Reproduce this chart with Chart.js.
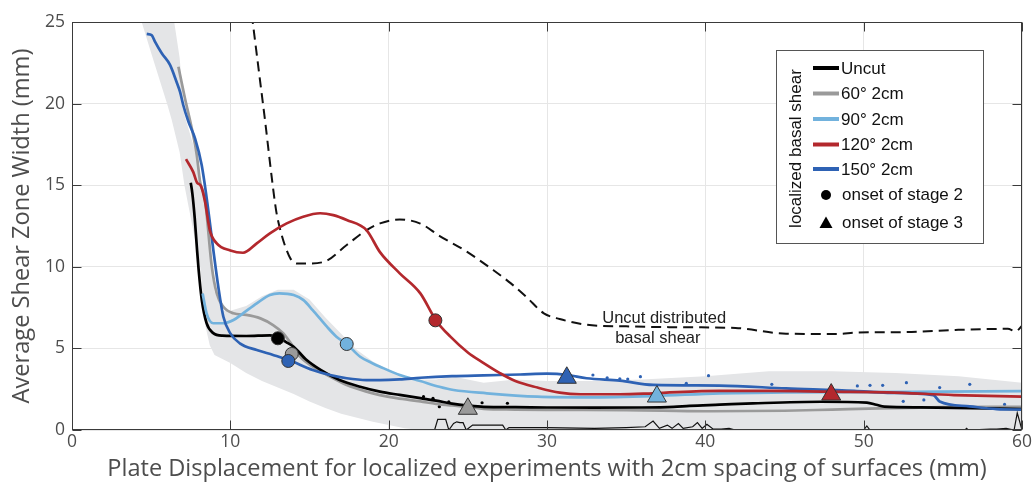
<!DOCTYPE html>
<html><head><meta charset="utf-8">
<script src="https://cdn.jsdelivr.net/npm/chart.js@4/dist/chart.umd.min.js"></script>
<style>html,body{margin:0;padding:0;background:#fff;}#wrap{width:1035px;height:484px;}</style>
</head><body><div id="wrap"><canvas id="c" width="1035" height="484"></canvas></div>
<script>
// ---------- tick labels ----------
const xTicks = [0, 10, 20, 30, 40, 50, 60];
const yTicks = [0, 5, 10, 15, 20, 25];
const xTitleText = 'Plate Displacement for localized experiments with 2cm spacing of surfaces (mm)';
const yTitleText = 'Average Shear Zone Width (mm)';
const seriesNames = ['Uncut', '60° 2cm', '90° 2cm', '120° 2cm', '150° 2cm'];
const markerNames = ['onset of stage 2', 'onset of stage 3'];
const legendTitle = 'localized basal shear';
const noteLines = ['Uncut distributed', 'basal shear'];

// ---------- series ----------
const uncutX = [7.5, 7.6, 7.75, 7.9, 8.0, 8.2, 8.5, 8.9, 9.5, 11, 12.5, 13.0, 13.5, 14.0, 14.8, 15.7, 16.9, 18.2, 19.45, 20.7, 22, 23, 24, 25, 26, 28, 30, 33, 36, 38, 39, 40.9, 43, 47.3, 50.2, 50.8, 51.3, 53.6, 57.8, 60];
const uncutY = [15.15, 14.5, 13.0, 11.0, 9.8, 7.95, 6.55, 5.95, 5.78, 5.76, 5.8, 5.7, 5.4, 5.1, 4.3, 3.68, 3.06, 2.65, 2.35, 2.15, 1.95, 1.8, 1.62, 1.5, 1.42, 1.4, 1.38, 1.37, 1.38, 1.42, 1.48, 1.55, 1.63, 1.73, 1.68, 1.55, 1.43, 1.39, 1.33, 1.28];

const g60X = [6.72, 7.14, 7.56, 7.88, 8.09, 8.4, 8.83, 9.14, 9.56, 10.19, 11.0, 11.9, 12.7, 13.35, 13.9, 14.4, 15.2, 16.3, 17.35, 18.6, 19.45, 20.5, 22, 23, 24, 25, 26, 28, 30, 35, 40, 45, 48, 51, 55, 60];
const g60Y = [22.26, 20.3, 18.5, 16.85, 15.2, 14.1, 10.0, 8.37, 7.55, 7.15, 7.05, 6.84, 6.43, 5.92, 5.2, 4.49, 3.88, 3.27, 2.76, 2.35, 2.14, 1.95, 1.75, 1.6, 1.5, 1.42, 1.3, 1.25, 1.23, 1.22, 1.15, 1.18, 1.25, 1.32, 1.4, 1.42];

const g90X = [8.25, 8.5, 8.93, 9.56, 10.2, 10.8, 11.67, 12.5, 13.1, 14.0, 14.6, 15.2, 16.1, 16.7, 17.35, 18.2, 19.0, 19.45, 20.7, 22, 23.2, 24.1, 26.2, 29.4, 32.5, 36.7, 40.9, 45, 50, 55, 60];
const g90Y = [8.37, 7.15, 6.54, 6.54, 6.74, 7.15, 7.76, 8.27, 8.37, 8.27, 7.97, 7.35, 6.33, 5.72, 5.27, 4.49, 4.08, 3.88, 3.37, 3.0, 2.65, 2.45, 2.25, 2.04, 2.0, 2.08, 2.25, 2.3, 2.32, 2.35, 2.38];

const g120X = [7.2, 7.66, 7.9, 8.15, 8.4, 8.7, 9.14, 10.0, 10.8, 11.67, 12.5, 13.56, 14.6, 15.67, 16.5, 17.35, 18.6, 19.45, 20.7, 22.0, 23.0, 23.9, 25.0, 26.0, 27.0, 28.0, 29.4, 30.8, 32.1, 34.6, 36.7, 40.9, 44, 47.9, 51.5, 55.7, 60];
const g120Y = [16.6, 15.8, 15.15, 14.95, 14.0, 12.25, 11.44, 11.0, 10.86, 11.44, 12.05, 12.66, 13.07, 13.28, 13.17, 12.87, 12.25, 10.9, 9.6, 8.37, 6.7, 5.72, 4.75, 4.1, 3.5, 3.0, 2.6, 2.29, 2.19, 2.19, 2.25, 2.4, 2.4, 2.35, 2.31, 2.14, 2.04];

const g150X = [4.72, 5.03, 5.24, 5.67, 6.19, 6.6, 6.82, 7.03, 7.35, 7.77, 8.19, 8.55, 8.93, 9.24, 9.56, 10.0, 10.6, 11.67, 12.7, 13.66, 15.2, 16.3, 17.35, 18.6, 19.45, 20.7, 22, 24, 26, 28.3, 30, 31.25, 32.5, 34.6, 36.7, 40.9, 45.1, 49.4, 51.5, 54.4, 54.8, 56.7, 58.4, 60];
const g150Y = [24.27, 24.2, 23.8, 23.08, 22.37, 21.34, 20.73, 19.9, 18.9, 17.87, 16.24, 13.9, 11.0, 8.78, 6.94, 5.92, 5.31, 4.9, 4.6, 4.3, 3.68, 3.37, 3.17, 3.06, 3.06, 3.1, 3.2, 3.3, 3.35, 3.4, 3.45, 3.38, 3.17, 3.02, 2.76, 2.72, 2.55, 2.4, 2.28, 2.14, 1.75, 1.45, 1.28, 1.25];

// Uncut distributed basal shear (dashed)
const distX = [11.35, 11.8, 12.2, 12.6, 12.9, 13.2, 13.45, 13.8, 14.2, 14.8, 15.9, 17.35, 18.6, 19.45, 20.7, 22.0, 23.2, 24.9, 26.6, 27.7, 28.7, 29.8, 30.8, 32.5, 35, 38, 41.9, 45.1, 48.3, 49.6, 52.6, 55.8, 59.1, 59.6, 60];
const distY = [25.5, 22.0, 18.9, 15.6, 13.4, 12.1, 11.3, 10.5, 10.2, 10.2, 10.3, 11.34, 12.25, 12.66, 12.9, 12.65, 11.9, 10.95, 9.8, 9.0, 8.15, 7.15, 6.8, 6.45, 6.35, 6.3, 6.25, 5.9, 5.88, 5.97, 6.0, 6.13, 6.2, 6.05, 6.38];

// thin lower trace
const lowX = [22.9, 23.1, 23.6, 23.8, 24.1, 24.3, 24.5, 24.7, 24.9, 25.3, 27.2, 27.4, 27.6, 30, 33, 35, 36.2, 36.7, 37.1, 37.6, 37.9, 38.3, 38.6, 39.2, 39.5, 39.8, 40.1, 40.5, 41, 41.5, 41.9, 50, 50.2, 50.4, 56.4, 56.5, 56.6, 58, 58.4, 59, 59.5, 59.7, 60];
const lowY = [0, 0.65, 0.65, 0, 0.4, 0.5, 0.45, 0.45, 0, 0.3, 0.3, 0, 0.15, 0.15, 0.1, 0.15, 0.2, 0.55, 0.1, 0.3, 0.1, 0.4, 0.1, 0.2, 0.45, 0.1, 0.35, 0.05, 0.05, 0.1, 0, 0, 0.25, 0, 0, 0.1, 0, 0.05, 0.05, 0.1, 0, 1.05, 0];

// shaded range
const bandX = [4.0, 4.4, 5.0, 6.0, 6.3, 6.8, 7.1, 7.5, 7.9, 8.1, 8.4, 8.7, 9.0, 9.5, 10, 11, 12, 13, 14, 15, 16, 17, 18, 19, 20, 21, 22, 23, 24, 26, 28, 30, 33, 36, 40, 44, 48, 52, 56, 60];
const bandUpper = [26, 26, 26, 26, 26, 22.8, 19.3, 18.0, 16.7, 15.5, 14.0, 11.0, 8.5, 7.3, 7.3, 7.6, 8.2, 8.6, 8.6, 8.0, 6.9, 5.9, 4.9, 4.2, 3.7, 3.3, 3.1, 3.1, 3.3, 2.9, 3.1, 3.0, 3.0, 3.1, 3.3, 3.6, 3.6, 3.5, 3.3, 2.9];
const bandLower = [26, 25, 23.1, 20, 19, 17, 15, 13, 11, 10, 6.5, 5.2, 4.6, 4.35, 4.1, 3.5, 3.0, 2.6, 2.2, 1.75, 1.35, 1.0, 0.75, 0.5, 0.3, 0.1, 0, 0, 0, 0, 0, 0, 0, 0, 0, 0, 0, 0, 0, 0];

// scattered raw points
const blueDotsX = [32.9, 33.8, 34.6, 35.1, 35.9, 38.8, 40.2, 44.2, 49.6, 50.4, 51.2, 52.7, 54.8, 56.7, 52.5, 53.8, 58.9];
const blueDotsY = [3.37, 3.2, 3.14, 3.12, 3.27, 2.86, 3.33, 2.8, 2.7, 2.74, 2.74, 2.9, 2.6, 2.8, 1.76, 1.84, 1.57];
const blackDotsX = [22.2, 22.8, 23.2, 23.8, 25.9, 27.5];
const blackDotsY = [2.04, 1.94, 1.43, 1.73, 1.67, 1.64];

// onset markers (order: Uncut, 60, 90, 120, 150)
const stage2X = [13.0, 13.88, 17.35, 22.95, 13.66];
const stage2Y = [5.62, 4.66, 5.27, 6.72, 4.23];
const stage3Names = ['60° 2cm', '150° 2cm', '90° 2cm', '120° 2cm'];
const stage3X = [25.0, 31.25, 36.94, 47.95];
const stage3Y = [1.3, 3.2, 2.05, 2.17];

// ---------- styling ----------
const colors = { 'Uncut': '#000000', '60° 2cm': '#9a9a9a', '90° 2cm': '#72b2dd', '120° 2cm': '#b3282d', '150° 2cm': '#2e62b4' };
const axisColor = '#4d4d4d';
const AX_FONT = '"Open Sans", "Noto Sans", sans-serif';
const LG_FONT = '"Liberation Sans", Arial, Helvetica, sans-serif';

function fitSize(text, family, target) {
  const c = document.createElement('canvas').getContext('2d');
  c.font = '100px ' + family;
  return 100 * target / c.measureText(text).width;
}
const xTitleSize = fitSize(xTitleText, AX_FONT, 880);
const yTitleSize = fitSize(yTitleText, AX_FONT, 355);

const zip = (xs, ys) => xs.map((x, i) => ({ x, y: ys[i] }));
const lineDs = (name, xs, ys, order) => ({
  label: name, data: zip(xs, ys), borderColor: colors[name], backgroundColor: colors[name],
  borderWidth: 2.7, pointRadius: 0, cubicInterpolationMode: 'monotone', fill: false, order
});

const datasets = [
  { label: 'bandUpper', data: zip(bandX, bandUpper), borderWidth: 0, pointRadius: 0, fill: '+1', backgroundColor: '#e4e5e7', borderColor: 'rgba(0,0,0,0)', tension: 0, order: 100 },
  { label: 'bandLower', data: zip(bandX, bandLower), borderWidth: 0, pointRadius: 0, fill: false, borderColor: 'rgba(0,0,0,0)', tension: 0, order: 99 },
  { label: 'low', data: zip(lowX, lowY), borderColor: '#111', borderWidth: 1.2, pointRadius: 0, tension: 0, fill: false, order: 90 },
  { label: 'dist', data: zip(distX, distY), borderColor: '#111', borderWidth: 2, borderDash: [10, 6], pointRadius: 0, cubicInterpolationMode: 'monotone', fill: false, order: 80 },
  { label: 'blueDots', data: zip(blueDotsX, blueDotsY), showLine: false, pointRadius: 1.6, pointBackgroundColor: '#2e62b4', pointBorderWidth: 0, order: 60 },
  { label: 'blackDots', data: zip(blackDotsX, blackDotsY), showLine: false, pointRadius: 1.6, pointBackgroundColor: '#000', pointBorderWidth: 0, order: 60 },
  lineDs('60° 2cm', g60X, g60Y, 50),
  lineDs('Uncut', uncutX, uncutY, 45),
  lineDs('90° 2cm', g90X, g90Y, 40),
  lineDs('150° 2cm', g150X, g150Y, 35),
  lineDs('120° 2cm', g120X, g120Y, 30),
  { label: 'stage2', data: zip(stage2X, stage2Y), showLine: false, pointStyle: 'circle', pointRadius: 6.5,
    pointBackgroundColor: seriesNames.map(n => colors[n]), pointBorderColor: '#333', pointBorderWidth: 1, order: 5 },
  { label: 'stage3', data: zip(stage3X, stage3Y), showLine: false, pointStyle: 'triangle', pointRadius: 11,
    pointBackgroundColor: stage3Names.map(n => colors[n]), pointBorderColor: '#333', pointBorderWidth: 1, order: 4 }
];

// frame with inward ticks
const framePlugin = {
  id: 'frame',
  afterDraw(chart) {
    const { ctx, chartArea: a, scales: { x, y } } = chart;
    const L = Math.round(a.left) + 0.5, R = Math.round(a.right) - 0.5, T = Math.round(a.top) + 0.5, B = Math.round(a.bottom) - 0.5;
    ctx.save();
    ctx.strokeStyle = '#3a3a3a'; ctx.lineWidth = 1;
    ctx.strokeRect(L, T, R - L, B - T);
    ctx.beginPath();
    const tl = 9;
    xTicks.forEach(v => { const p = Math.round(x.getPixelForValue(v)) + 0.5; ctx.moveTo(p, B); ctx.lineTo(p, B - tl); ctx.moveTo(p, T); ctx.lineTo(p, T + tl); });
    yTicks.forEach(v => { const p = Math.round(y.getPixelForValue(v)) + 0.5; ctx.moveTo(L, p); ctx.lineTo(L + tl, p); ctx.moveTo(R, p); ctx.lineTo(R - tl, p); });
    ctx.stroke();
    ctx.restore();
  }
};

// annotation + legend
const overlayPlugin = {
  id: 'overlay',
  afterDraw(chart) {
    const { ctx, scales: { x, y } } = chart;
    ctx.save();
    // note text
    ctx.fillStyle = '#222'; ctx.font = '16.5px ' + LG_FONT; ctx.textAlign = 'center'; ctx.textBaseline = 'middle';
    ctx.fillText(noteLines[0], x.getPixelForValue(37.4), y.getPixelForValue(6.86));
    ctx.fillText(noteLines[1], x.getPixelForValue(37.0), y.getPixelForValue(5.58));

    // legend box
    const bx = 776.5, by = 50.5, bw = 207, bh = 193;
    ctx.fillStyle = '#fff'; ctx.fillRect(bx, by, bw, bh);
    ctx.strokeStyle = '#555'; ctx.lineWidth = 1; ctx.strokeRect(bx, by, bw, bh);
    ctx.fillStyle = '#111'; ctx.font = '17px ' + LG_FONT;
    ctx.save(); ctx.translate(796, 148.5); ctx.rotate(-Math.PI / 2);
    ctx.textAlign = 'center'; ctx.textBaseline = 'middle'; ctx.fillText(legendTitle, 0, 0); ctx.restore();
    const rows = [68, 93.5, 119, 144.5, 169];
    ctx.textAlign = 'left'; ctx.textBaseline = 'middle';
    seriesNames.forEach((n, i) => {
      ctx.strokeStyle = colors[n]; ctx.lineWidth = 4;
      ctx.beginPath(); ctx.moveTo(813, rows[i]); ctx.lineTo(839, rows[i]); ctx.stroke();
      ctx.fillStyle = '#111'; ctx.fillText(n, 841, rows[i] + 1);
    });
    ctx.fillStyle = '#000';
    ctx.beginPath(); ctx.arc(826, 195, 5, 0, Math.PI * 2); ctx.fill();
    ctx.beginPath(); ctx.moveTo(826, 216.5); ctx.lineTo(832.5, 228); ctx.lineTo(819.5, 228); ctx.closePath(); ctx.fill();
    ctx.fillStyle = '#111';
    ctx.fillText(markerNames[0], 842, 195.5);
    ctx.fillText(markerNames[1], 842, 223);
    ctx.restore();
  }
};

new Chart(document.getElementById('c'), {
  type: 'line',
  data: { datasets },
  options: {
    responsive: false, animation: false, devicePixelRatio: 1,
    layout: { padding: { top: 22, right: 13, left: 0, bottom: 0 } },
    plugins: { legend: { display: false }, tooltip: { enabled: false } },
    scales: {
      x: {
        type: 'linear', min: 0, max: 60,
        afterBuildTicks: s => { s.ticks = xTicks.map(v => ({ value: v })); },
        afterFit: s => { s.height = 54; },
        ticks: { color: axisColor, font: { family: AX_FONT, size: 17.5 }, padding: 2, maxRotation: 0 },
        grid: { color: '#e6e6e6', drawTicks: false, lineWidth: 1 },
        border: { display: false },
        title: { display: true, text: xTitleText, color: axisColor, font: { family: AX_FONT, size: xTitleSize }, padding: { top: 0, bottom: 1 } }
      },
      y: {
        type: 'linear', min: 0, max: 25,
        afterBuildTicks: s => { s.ticks = yTicks.map(v => ({ value: v })); },
        afterFit: s => { s.width = 72; },
        ticks: { color: axisColor, font: { family: AX_FONT, size: 17.5 }, padding: 7 },
        grid: { color: '#e6e6e6', drawTicks: false, lineWidth: 1 },
        border: { display: false },
        title: { display: true, text: yTitleText, color: axisColor, font: { family: AX_FONT, size: yTitleSize }, padding: { top: 8, bottom: 0 } }
      }
    }
  },
  plugins: [framePlugin, overlayPlugin]
});
</script></body></html>
